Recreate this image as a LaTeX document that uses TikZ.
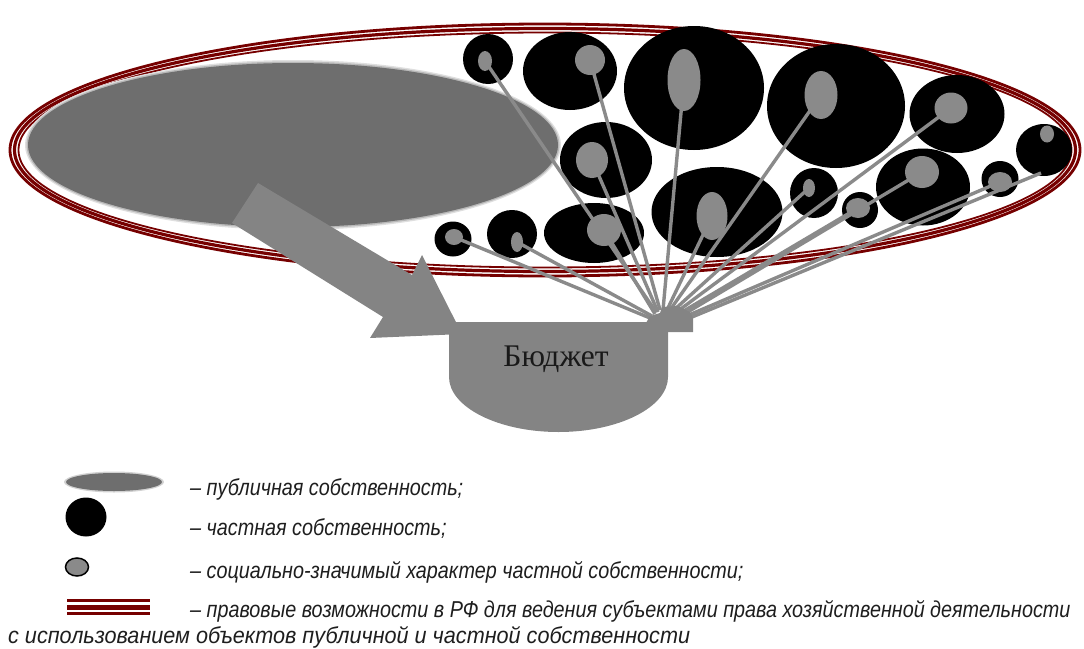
\documentclass[tikz,border=0pt]{standalone}
\usepackage{fontspec}
\setmainfont{Liberation Serif}
\newfontfamily\legfont[FakeStretch=0.86]{Liberation Sans}
\newfontfamily\legfontw[FakeStretch=0.94]{Liberation Sans}
\usetikzlibrary{shapes.geometric}
\definecolor{ringred}{RGB}{118,0,0}
\definecolor{pubgray}{RGB}{110,110,110}
\definecolor{arrgray}{RGB}{132,132,132}
\definecolor{linegray}{RGB}{138,138,138}
\definecolor{txtgray}{RGB}{30,30,30}
\tikzset{
  blk/.style={ellipse, fill=black, inner sep=0pt, draw=none},
  gry/.style={ellipse, fill=linegray, inner sep=0pt, draw=none},
  conn/.style={draw=linegray, line width=3.4pt},
  legtext/.style={anchor=base west, inner sep=0pt, text=txtgray, font=\legfont\itshape\fontsize{23}{25}\selectfont},
}
\begin{document}
\begin{tikzpicture}[x=1pt,y=-1pt]
\useasboundingbox (0,0) rectangle (1084,648);
% ring
\draw[ringred, line width=2.8pt] (545,150) ellipse [x radius=535pt, y radius=126pt];
\draw[ringred, line width=3.2pt] (545,150) ellipse [x radius=530.5pt, y radius=121.5pt];
\draw[ringred, line width=1.8pt] (545,150) ellipse [x radius=526.5pt, y radius=117.5pt];
% public property
\fill[gray!25] (293,145) ellipse [x radius=268pt, y radius=85pt];
\fill[gray!55] (293,145) ellipse [x radius=266.5pt, y radius=83.5pt];
\node[ellipse, fill=pubgray, inner sep=0pt, minimum width=530pt, minimum height=164pt] (pub) at (293,145) {};
% private property (black)
\node[blk, minimum width=50pt, minimum height=50pt] (bA) at (488,59) {};
\node[blk, minimum width=94pt, minimum height=78pt] (bB) at (570,71) {};
\node[blk, minimum width=140pt, minimum height=124pt] (bC) at (694,88) {};
\node[blk, minimum width=138pt, minimum height=124pt] (bD) at (836,106) {};
\node[blk, minimum width=95pt, minimum height=78pt] (bE) at (957,114) {};
\node[blk, minimum width=56pt, minimum height=52pt] (bF) at (1044,150) {};
\node[blk, minimum width=92pt, minimum height=76pt] (bG) at (606,160) {};
\node[blk, minimum width=131pt, minimum height=90pt] (bH) at (717,212) {};
\node[blk, minimum width=48pt, minimum height=50pt] (bI) at (814,193) {};
\node[blk, minimum width=94pt, minimum height=77pt] (bJ) at (923,187) {};
\node[blk, minimum width=37pt, minimum height=36pt] (bK) at (1000,179) {};
\node[blk, minimum width=36pt, minimum height=36pt] (bL) at (860,210) {};
\node[blk, minimum width=37pt, minimum height=35pt] (bM) at (453,239) {};
\node[blk, minimum width=50pt, minimum height=48pt] (bN) at (512,234) {};
\node[blk, minimum width=100pt, minimum height=60pt] (bO) at (594,233) {};
% socially significant (gray)
\node[gry, minimum width=14pt, minimum height=20pt] (gA) at (485,61) {};
\node[gry, minimum width=30pt, minimum height=30pt] (gB) at (590,60) {};
\node[gry, minimum width=33pt, minimum height=62pt] (gC) at (684,80) {};
\node[gry, minimum width=33pt, minimum height=48pt] (gD) at (821,95) {};
\node[gry, minimum width=33pt, minimum height=31pt] (gE) at (951,108) {};
\node[gry, minimum width=14pt, minimum height=17pt] (gF) at (1047,134) {};
\node[gry, minimum width=32pt, minimum height=36pt] (gG) at (592,160) {};
\node[gry, minimum width=31pt, minimum height=48pt] (gH) at (712,216) {};
\node[gry, minimum width=12pt, minimum height=18pt] (gI) at (809,188) {};
\node[gry, minimum width=34pt, minimum height=32pt] (gJ) at (922,172) {};
\node[gry, minimum width=24pt, minimum height=20pt] (gK) at (1000,182) {};
\node[gry, minimum width=24pt, minimum height=20pt] (gL) at (858,208) {};
\node[gry, minimum width=18pt, minimum height=16pt] (gM) at (454,237) {};
\node[gry, minimum width=12pt, minimum height=20pt] (gN) at (517,242) {};
\node[gry, minimum width=34pt, minimum height=32pt] (gO) at (604,230) {};
% junction points
\coordinate (jM) at (650,318);
\coordinate (jN) at (652,316);
\coordinate (jO) at (655,314);
\coordinate (jA) at (656,312);
\coordinate (jG) at (658,312);
\coordinate (jB) at (660,310);
\coordinate (jC) at (663,310);
\coordinate (jH) at (667,310);
\coordinate (jD) at (670,310);
\coordinate (jI) at (674,310);
\coordinate (jE) at (678,311);
\coordinate (jL) at (682,312);
\coordinate (jJ) at (686,313);
\coordinate (jK) at (689,315);
\coordinate (jF) at (692,317);
\coordinate (fF) at (1041,173);
% connectors
\draw[conn] (gM.center) -- (jM);
\draw[conn] (gN.center) -- (jN);
\draw[conn] (gO.center) -- (jO);
\draw[conn] (gA.center) -- (jA);
\draw[conn] (gG.center) -- (jG);
\draw[conn] (gB.center) -- (jB);
\draw[conn] (gC.center) -- (jC);
\draw[conn] (gH.center) -- (jH);
\draw[conn] (gD.center) -- (jD);
\draw[conn] (gI.center) -- (jI);
\draw[conn] (gE.center) -- (jE);
\draw[conn] (gL.center) -- (jL);
\draw[conn] (gJ.center) -- (jJ);
\draw[conn] (gK.center) -- (jK);
\draw[conn] (fF) -- (jF);
% big arrow
\fill[arrgray] (258,183) -- (412,275) -- (422,255) -- (462,334) -- (370,338) -- (383,317) -- (232,223) -- cycle;
% budget
\fill[arrgray] (449,322) -- (668,322) -- (668,377)
  .. controls (668,407) and (619,432) .. (558.5,432)
  .. controls (498,432) and (449,407) .. (449,377) -- cycle;
\fill[arrgray] (646,323) -- (650,316) -- (660,313) -- (662,307) -- (678,306) -- (690,312) -- (693,318) -- (693,332) -- (666,332) -- cycle;
\node[font=\fontsize{31.5}{33}\selectfont, text=black!90, inner sep=0pt] (bud) at (556,359) {Бюджет};
% legend
\fill[gray!35] (114,482) ellipse [x radius=50pt, y radius=10.5pt];
\node[ellipse, fill=pubgray, inner sep=0pt, minimum width=96pt, minimum height=18pt] (lpub) at (114,482) {};
\node[blk, minimum width=41pt, minimum height=39pt] (lblk) at (86,517) {};
\node[ellipse, fill=linegray, draw=black, line width=1.5pt, inner sep=0pt, minimum width=23pt, minimum height=18pt] (lgry) at (77,567) {};
\fill[ringred] (67,598.5) rectangle (150,601.5);
\fill[ringred] (67,604.5) rectangle (150,609.5);
\fill[ringred] (67,612) rectangle (150,614.5);
\node[legtext] (t1) at (190,495) {– публичная собственность;};
\node[legtext] (t2) at (190,535) {– частная собственность;};
\node[legtext] (t3) at (190,578) {– социально-значимый характер частной собственности;};
\node[legtext] (t4) at (190,617) {– правовые возможности в РФ для ведения субъектами права хозяйственной деятельности};
\node[legtext, font=\legfontw\itshape\fontsize{23}{25}\selectfont] (t5) at (8,643) {с использованием объектов публичной и частной собственности};
\end{tikzpicture}
\end{document}
